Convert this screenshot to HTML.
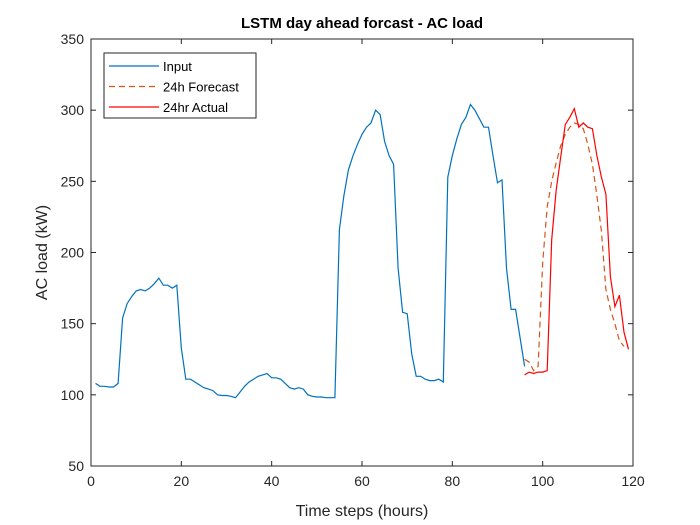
<!DOCTYPE html>
<html><head><meta charset="utf-8"><style>
body{margin:0;background:#fff;}
svg{display:block;font-family:"Liberation Sans",Arial,sans-serif;}
</style></head><body>
<svg id="chart" width="700" height="525">
<rect x="0" y="0" width="700" height="525" fill="#fff"/>
<g id="plot"></g>
</svg>
<script>
const inputVals=[108,106,106,105.5,105.5,108,154,164,169,173,174,173,175,178,182,177,177,175,177,133,111,111,109,107,105,104,103,100,99.5,99.5,99,98,102,106,109,111,113,114,115,112,112,111,108,105,104,105,104,100,99,98.5,98.5,98,98,98,216,240,258,268,276,283,288,291,300,297,278,268,262,189,158,157,129,113,113,111,110,110,111,109,253,268,280,290,295,304,300,294,288,288,268,249,251,189,160,160,140,120];
const forecastVals=[125,123,117,120,193,232,250,263,275,283,288,291,290,287,276,262,240,215,174,160,150,138,134];
const actualVals=[114,116,115,116,116,117,209,244,267,290,295,301,288,291,288,287,268,253,241,183,162,170,144,132];
const xTicks=[0,20,40,60,80,100,120];
const yTicks=[50,100,150,200,250,300,350];
const L=91,R=633,T=39,B=466;
const xs=v=>L+(v-0)/120*(R-L);
const ys=v=>B-(v-50)/300*(B-T);
const NS="http://www.w3.org/2000/svg";
const g=document.getElementById('plot');
function mk(tag,attrs){const e=document.createElementNS(NS,tag);for(const k in attrs)e.setAttribute(k,attrs[k]);g.appendChild(e);return e;}
let box=mk('rect',{x:L,y:T,width:R-L,height:B-T,fill:'none',stroke:'#262626','stroke-width':1});


xTicks.forEach(t=>{
  const x=xs(t);
  mk('line',{x1:x,x2:x,y1:B,y2:B-5,stroke:'#262626'});
  mk('line',{x1:x,x2:x,y1:T,y2:T+5,stroke:'#262626'});
  const tx=mk('text',{x:x,y:B+20,'text-anchor':'middle','font-size':14,fill:'#262626'});
  tx.textContent=t;
  
  
});
yTicks.forEach(t=>{
  const y=ys(t);
  mk('line',{x1:L,x2:L+5,y1:y,y2:y,stroke:'#262626'});
  mk('line',{x1:R,x2:R-5,y1:y,y2:y,stroke:'#262626'});
  const tx=mk('text',{x:L-7,y:y+5,'text-anchor':'end','font-size':14,fill:'#262626'});
  tx.textContent=t;
  
  
});
function line(vals,start,color,dash,name){
  const pts=vals.map((v,i)=>xs(start+i).toFixed(1)+','+ys(v).toFixed(1)).join(' ');
  const p=mk('polyline',{points:pts,fill:'none',stroke:color,'stroke-width':1.2});
  if(dash)p.setAttribute('stroke-dasharray',dash);
  
  
}
line(inputVals,1,'#0072BD',null,'input-line');
line(forecastVals,96,'#D95319','6,4','forecast-line');
line(actualVals,96,'#FF0000',null,'actual-line');
const title=mk('text',{x:(L+R)/2,y:28,'text-anchor':'middle','font-size':15,'font-weight':'bold',fill:'#000'});
title.textContent='LSTM day ahead forcast - AC load';


const xl=mk('text',{x:(L+R)/2,y:516,'text-anchor':'middle','font-size':16,fill:'#262626'});
xl.textContent='Time steps (hours)';


const yl=mk('text',{x:0,y:0,'text-anchor':'middle','font-size':16,fill:'#262626',transform:'translate(47,'+((T+B)/2)+') rotate(-90)'});
yl.textContent='AC load (kW)';


const lg=mk('rect',{x:104,y:53,width:152,height:65,fill:'#fff',stroke:'#262626','stroke-width':1});


const entries=[['Input','#0072BD',null],['24h Forecast','#D95319','6,4'],['24hr Actual','#FF0000',null]];
entries.forEach((e,i)=>{
  const y=66+i*20.5;
  const ln=mk('line',{x1:109,x2:159,y1:y,y2:y,stroke:e[1],'stroke-width':1.2});
  if(e[2])ln.setAttribute('stroke-dasharray',e[2]);
  const tx=mk('text',{x:163,y:y+5,'font-size':13,fill:'#000'});
  tx.textContent=e[0];
  
  
});
</script>
</body></html>
